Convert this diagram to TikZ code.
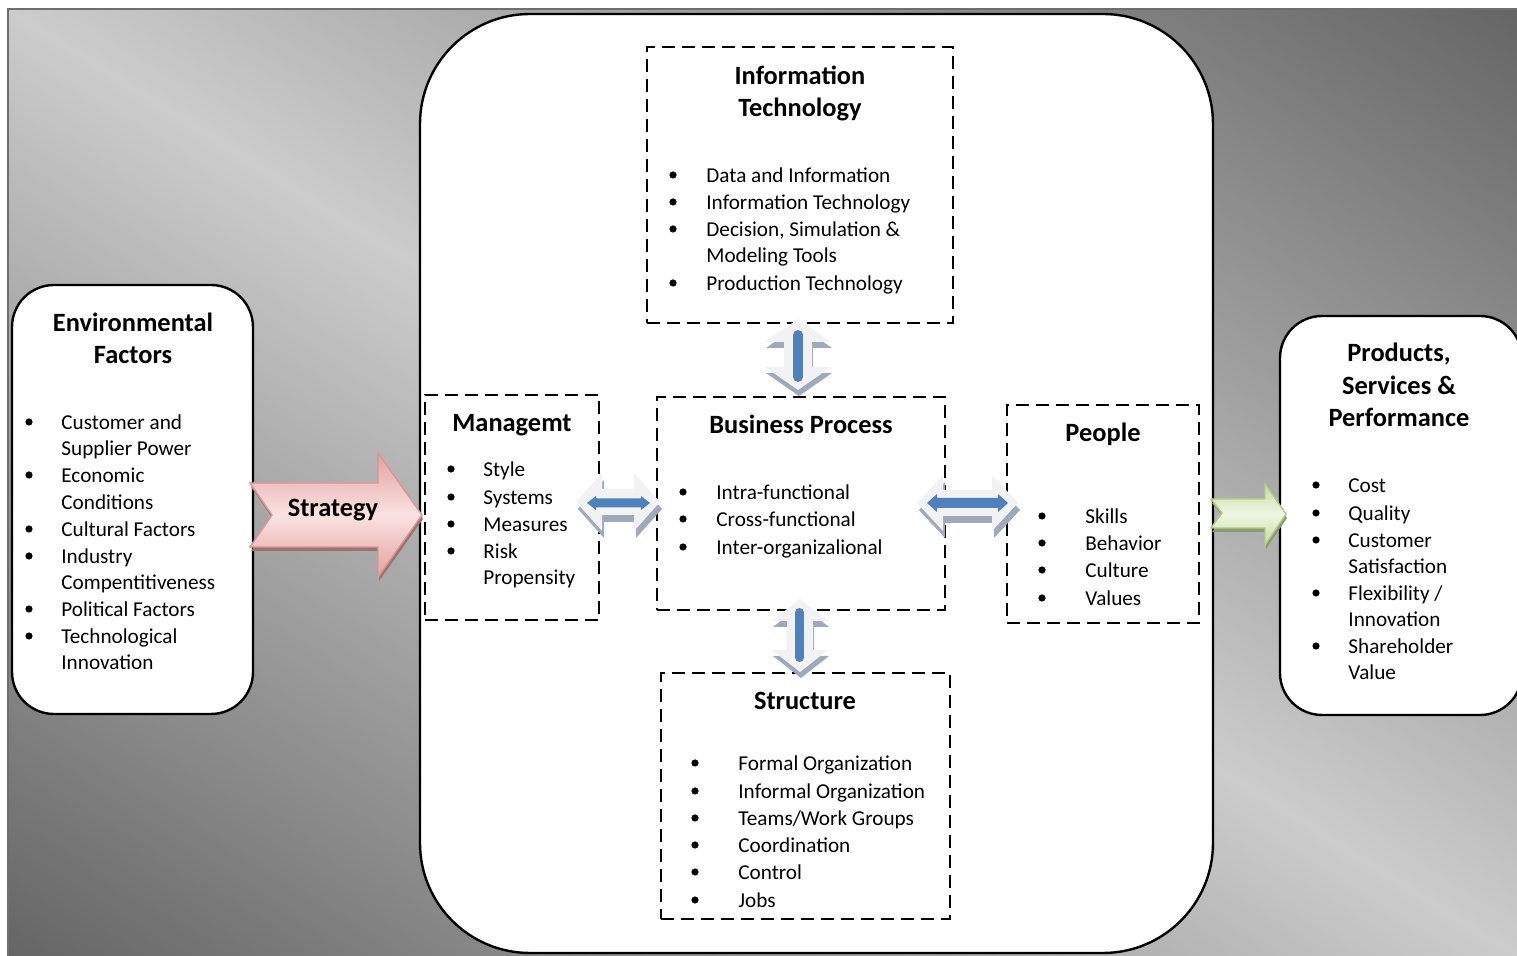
\documentclass[tikz,border=0pt]{standalone}
\usepackage{fontspec}
\setmainfont{Carlito}
\usetikzlibrary{calc}

\definecolor{bgLight}{HTML}{CCCCCC}
\definecolor{bgDark}{HTML}{656565}
\definecolor{bgEdge}{HTML}{6E6E6E}
\definecolor{pinkEdge}{HTML}{E5A1A0}
\definecolor{pinkMid}{HTML}{FAE2E2}
\definecolor{pinkLine}{HTML}{D99694}
\definecolor{pinkShadow}{HTML}{9A7474}
\definecolor{greenEdge}{HTML}{C6DBA0}
\definecolor{greenMid}{HTML}{EFF6E3}
\definecolor{greenLine}{HTML}{B3CD87}
\definecolor{greenShadow}{HTML}{8C9A74}
\definecolor{faceGray}{HTML}{F2F2F2}
\definecolor{depthGray}{HTML}{9EA9BC}
\definecolor{barBlue}{HTML}{4F81BD}

% horizontal double block arrow: left tip x, right tip x, centre y, head length, head half height, shaft half height
\newcommand\hdblpath[6]{(#1,#3) -- (#1+#4,#3-#5) -- (#1+#4,#3-#6) -- (#2-#4,#3-#6) -- (#2-#4,#3-#5) -- (#2,#3) -- (#2-#4,#3+#5) -- (#2-#4,#3+#6) -- (#1+#4,#3+#6) -- (#1+#4,#3+#5) -- cycle}
% vertical double block arrow: top tip y, bottom tip y, centre x, head length, head half width, shaft half width
\newcommand\vdblpath[6]{(#3,#1) -- (#3+#5,#1+#4) -- (#3+#6,#1+#4) -- (#3+#6,#2-#4) -- (#3+#5,#2-#4) -- (#3,#2) -- (#3-#5,#2-#4) -- (#3-#6,#2-#4) -- (#3-#6,#1+#4) -- (#3-#5,#1+#4) -- cycle}

\newcounter{lnno}
% bulleted line: bullet x, text x, centre y, text
\newcommand\bul[4]{\stepcounter{lnno}%
  \fill (#1,#3) circle[radius=1.8pt];
  \node[bodytext, name=ln\thelnno] at (#2,#3+7.2) {#4};}
% continuation line: text x, centre y, text
\newcommand\cnt[3]{\stepcounter{lnno}%
  \node[bodytext, name=ln\thelnno] at (#1,#2+7.2) {#3};}

\begin{document}
\begin{tikzpicture}[x=0.5pt,y=-0.5pt,
  bodytext/.style={anchor=base west, inner sep=0pt, font=\fontsize{10.6}{12}\selectfont},
  titletext/.style={anchor=base, inner sep=0pt, font=\fontsize{13.2}{16}\selectfont\bfseries},
  roundbox/.style={draw=black, fill=white, line width=1.2pt, inner sep=0pt},
  dashbox/.style={draw=black, line width=1.4pt, dash pattern=on 6.5pt off 3.5pt, inner sep=0pt},
  depth/.style={fill=depthGray},
  face/.style={fill=faceGray}]
\useasboundingbox (0,0) rectangle (1517,956);

% backdrop with a diagonal grey gradient
\begin{scope}
  \clip (8,9) rectangle (1540,980);
  \shade[transform canvas={rotate around={-32.1:(762.5,482.5)}},
         top color=bgDark, bottom color=bgDark, middle color=bgLight]
    (762.5-1150,482.5-802) rectangle (762.5+1150,482.5+802);
\end{scope}
\draw[bgEdge, line width=1pt] (8,980) -- (8,9) -- (1540,9);

% main rounded panels
\node[roundbox, rounded corners=55pt, minimum width=396.5pt, minimum height=469.5pt] (core) at (816.5,483.5) {};
\node[roundbox, rounded corners=21pt, minimum width=120.5pt, minimum height=214.5pt] (env) at (132.5,499.5) {};
\node[roundbox, rounded corners=21pt, minimum width=121pt, minimum height=199.5pt] (prod) at (1401,515.5) {};

% dashed blocks
\node[dashbox, minimum width=153pt, minimum height=138pt] (it) at (800,185) {};
\node[dashbox, minimum width=87pt, minimum height=112.5pt] (mgmt) at (512,507.5) {};
\node[dashbox, minimum width=144pt, minimum height=106.5pt] (bp) at (801,503.5) {};
\node[dashbox, minimum width=96pt, minimum height=109pt] (ppl) at (1103,514) {};
\node[dashbox, minimum width=144.5pt, minimum height=123pt] (str) at (805.5,796) {};

% strategy arrow
\fill[pinkShadow, shift={(1,4)}] (250,483) -- (378,483) -- (378,453) -- (422,515) -- (378,577) -- (378,547) -- (250,547) -- (272,515) -- cycle;
\draw[pinkLine, line width=0.7pt, top color=pinkEdge, bottom color=pinkEdge, middle color=pinkMid]
  (250,483) -- (378,483) -- (378,453) -- (422,515) -- (378,577) -- (378,547) -- (250,547) -- (272,515) -- cycle;
\node[titletext] (strategy) at (333,516.5) {Strategy};

% output arrow
\fill[greenShadow, shift={(1,4)}] (1211,499) -- (1265,499) -- (1265,484) -- (1286,514) -- (1265,545) -- (1265,528) -- (1211,528) -- (1222,513) -- cycle;
\draw[greenLine, line width=0.7pt, top color=greenEdge, bottom color=greenEdge, middle color=greenMid]
  (1211,499) -- (1265,499) -- (1265,484) -- (1286,514) -- (1265,545) -- (1265,528) -- (1211,528) -- (1222,513) -- cycle;

% two-way links between the blocks
\fill[depth, shift={(2,7)}] \hdblpath{576}{660}{502}{26}{29}{13};
\fill[face] \hdblpath{576}{660}{502}{26}{29}{13};
\fill[barBlue] \hdblpath{587}{650}{503}{9}{7}{4.5};

\fill[depth, shift={(2,7)}] \hdblpath{917}{1018}{503}{26}{28}{13};
\fill[face] \hdblpath{917}{1018}{503}{26}{28}{13};
\fill[barBlue] \hdblpath{927}{1008}{503}{10}{9}{5};

\fill[depth, shift={(1,6)}] \vdblpath{319}{390}{798}{23}{33}{14};
\fill[face] \vdblpath{319}{390}{798}{23}{33}{14};
\draw[barBlue, line width=5pt, line cap=round] (798,335) -- (798,377);

\fill[depth, shift={(1,6)}] \vdblpath{599}{672}{800}{22}{28}{13};
\fill[face] \vdblpath{599}{672}{800}{22}{28}{13};
\draw[barBlue, line width=4.5pt, line cap=round] (799.5,612.5) -- (799.5,657.5);

% environmental factors
\node[titletext] (envt1) at (133,331.5) {Environmental};
\node[titletext] (envt2) at (133,363.5) {Factors};
\bul{29}{61}{422}{Customer and}
\cnt{61}{448}{Supplier Power}
\bul{29}{61}{475}{Economic}
\cnt{61}{502}{Conditions}
\bul{29}{61}{529}{Cultural Factors}
\bul{29}{61}{556}{Industry}
\cnt{61}{582}{Compentitiveness}
\bul{29}{61}{609}{Political Factors}
\bul{29}{61}{636}{Technological}
\cnt{61}{662}{Innovation}

% products, services and performance
\node[titletext] (prodt1) at (1399,361.5) {Products,};
\node[titletext] (prodt2) at (1399,394.5) {Services \&};
\node[titletext] (prodt3) at (1399,426.5) {Performance};
\bul{1316}{1348}{485}{Cost}
\bul{1316}{1348}{513}{Quality}
\bul{1316}{1348}{540}{Customer}
\cnt{1348}{566}{Satisfaction}
\bul{1316}{1348}{593}{Flexibility /}
\cnt{1348}{619}{Innovation}
\bul{1316}{1348}{646}{Shareholder}
\cnt{1348}{672}{Value}

% information technology
\node[titletext] (itt1) at (800,84.5) {Information};
\node[titletext] (itt2) at (800,116.5) {Technology};
\bul{673}{706}{175}{Data and Information}
\bul{673}{706}{202}{Information Technology}
\bul{673}{706}{229}{Decision, Simulation \&}
\cnt{706}{255}{Modeling Tools}
\bul{673}{706}{283}{Production Technology}

% management
\node[titletext] (mgmtt) at (512,431.5) {Managemt};
\bul{451}{483}{469}{Style}
\bul{451}{483}{497}{Systems}
\bul{451}{483}{524}{Measures}
\bul{451}{483}{551}{Risk}
\cnt{483}{577}{Propensity}

% business process
\node[titletext] (bpt) at (801,433.5) {Business Process};
\bul{683}{716}{492}{Intra-functional}
\bul{683}{716}{519}{Cross-functional}
\bul{683}{716}{547}{Inter-organizalional}

% people
\node[titletext] (pplt) at (1103,441.5) {People};
\bul{1042}{1085}{516}{Skills}
\bul{1042}{1085}{543}{Behavior}
\bul{1042}{1085}{570}{Culture}
\bul{1042}{1085}{598}{Values}

% structure
\node[titletext] (strt) at (805,709.5) {Structure};
\bul{695}{738}{763}{Formal Organization}
\bul{695}{738}{791}{Informal Organization}
\bul{695}{738}{818}{Teams/Work Groups}
\bul{695}{738}{845}{Coordination}
\bul{695}{738}{872}{Control}
\bul{695}{738}{900}{Jobs}
\end{tikzpicture}
\end{document}
